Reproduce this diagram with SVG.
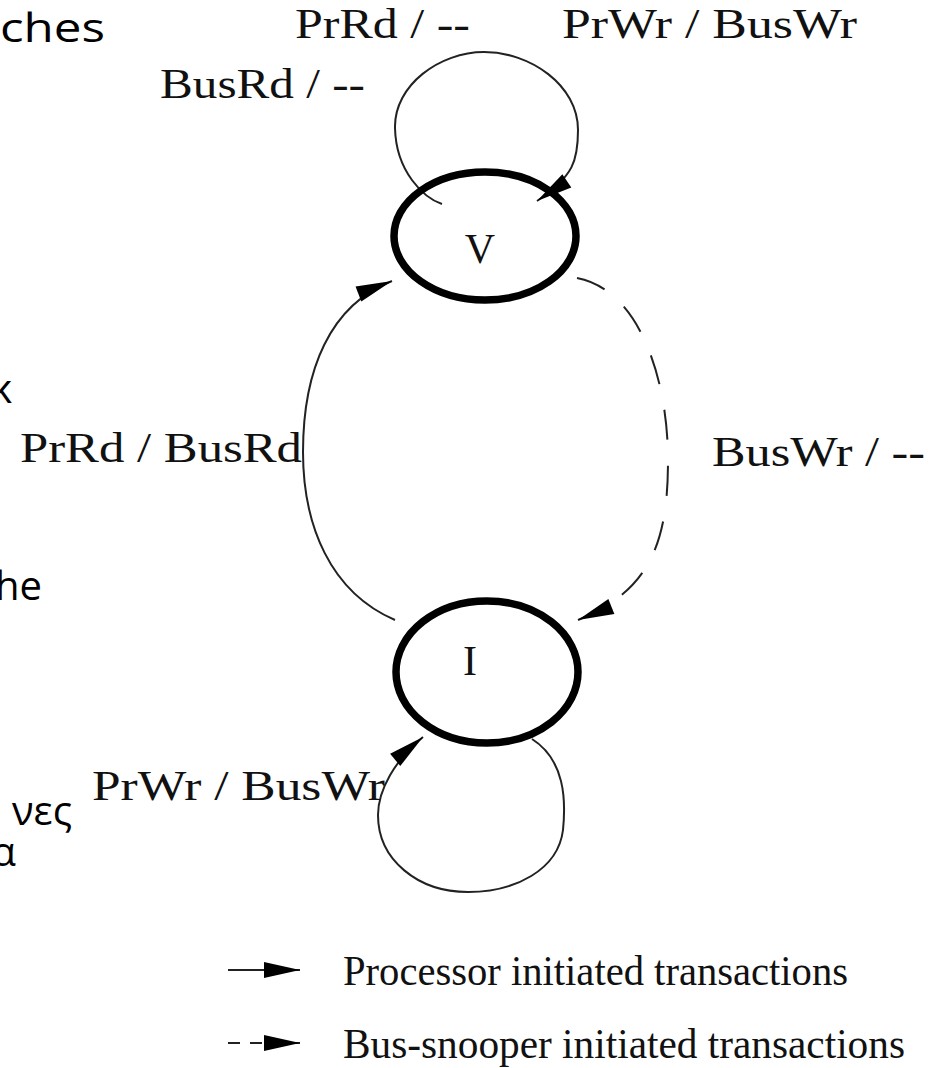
<svg xmlns="http://www.w3.org/2000/svg" width="933" height="1068" viewBox="0 0 933 1068">
<style>
.lbl{font-family:"Liberation Serif","Times New Roman",serif;font-size:42px;fill:#111}
.slide{font-family:"Open Sans","Noto Sans",sans-serif;font-size:40px;fill:#000}
.state{fill:none;stroke:#000;stroke-width:7.5}
.edge{fill:none;stroke:#222;stroke-width:2}
.dash{stroke-dasharray:30 26}
</style>
<defs>
<marker id="ah" markerUnits="userSpaceOnUse" markerWidth="40" markerHeight="20" refX="36" refY="8" orient="auto" overflow="visible">
<path d="M0,0 L36,8 L0,16 z" fill="#000"/>
</marker>
</defs>
<rect width="933" height="1068" fill="#fff"/>
<g id="slide-text">
<text class="slide" x="0" y="42" font-size="42" textLength="105" lengthAdjust="spacingAndGlyphs">ches</text>
<text class="slide" x="12" y="403" text-anchor="end">κ</text>
<text class="slide" x="42" y="600" text-anchor="end">he</text>
<text class="slide" x="72" y="825" text-anchor="end">νες</text>
<text class="slide" x="16" y="866" text-anchor="end">α</text>
</g>
<g id="connectors">
<path class="edge" d="M442 204 C424 198 396 172 395 128 C394 85 440 52 484 52 C530 52 578 85 578 130 C578 160 574 176 537 201" marker-end="url(#ah)"/>
<path class="edge" d="M395 620 C330 592 303 525 303 452 C303 370 330 305 392 281" marker-end="url(#ah)"/>
<path class="edge dash" d="M577 278 C640 290 668 380 668 460 C668 540 652 590 578 620" marker-end="url(#ah)"/>
<path class="edge" d="M532 739 C565 760 566 800 563 830 C558 870 515 892 468 892 C418 892 378 860 378 815 C378 790 395 760 423 737" marker-end="url(#ah)"/>
</g>
<g id="node-V">
<ellipse class="state" cx="485" cy="236" rx="91" ry="64"/>
<text class="lbl" x="480" y="263" text-anchor="middle" font-size="45">V</text>
</g>
<g id="node-I">
<ellipse class="state" cx="487" cy="672" rx="91" ry="71"/>
<text class="lbl" x="470" y="675" text-anchor="middle" font-size="45">I</text>
</g>
<g id="labels">
<text class="lbl" x="295" y="38" textLength="175" lengthAdjust="spacingAndGlyphs">PrRd / --</text>
<text class="lbl" x="562" y="38" textLength="295" lengthAdjust="spacingAndGlyphs">PrWr / BusWr</text>
<text class="lbl" x="160" y="98" textLength="205" lengthAdjust="spacingAndGlyphs">BusRd / --</text>
<text class="lbl" x="20" y="462" textLength="282" lengthAdjust="spacingAndGlyphs">PrRd / BusRd</text>
<text class="lbl" x="712" y="466" textLength="213" lengthAdjust="spacingAndGlyphs">BusWr / --</text>
<text class="lbl" x="92" y="800" textLength="293" lengthAdjust="spacingAndGlyphs">PrWr / BusWr</text>
</g>
<g id="legend">
<line class="edge" x1="228" y1="970" x2="300" y2="970" marker-end="url(#ah)"/>
<line class="edge dash" x1="228" y1="1043" x2="300" y2="1043" style="stroke-dasharray:12 10" marker-end="url(#ah)"/>
<text class="lbl" x="343" y="985" font-size="41" textLength="505" lengthAdjust="spacingAndGlyphs">Processor initiated transactions</text>
<text class="lbl" x="343" y="1058" font-size="41" textLength="562" lengthAdjust="spacingAndGlyphs">Bus-snooper initiated transactions</text>
</g>
</svg>
